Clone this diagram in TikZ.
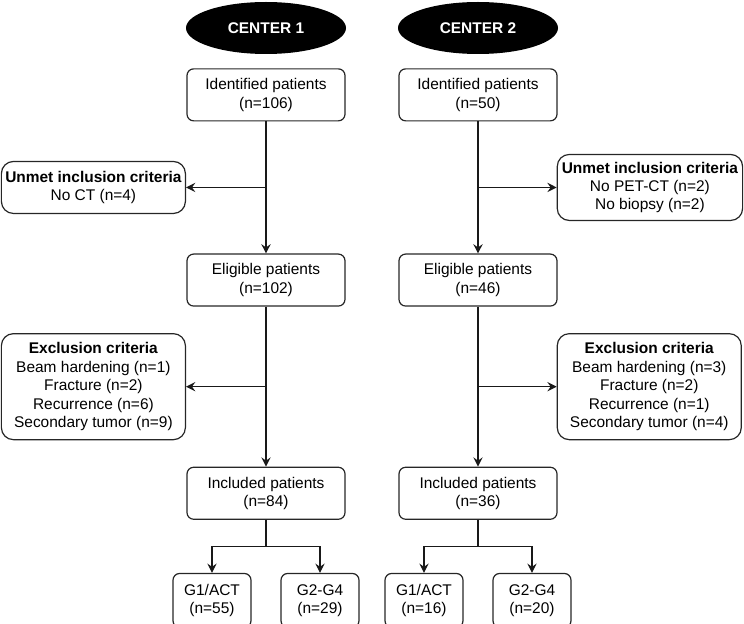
\documentclass[tikz,border=0pt]{standalone}
\usepackage{fontspec}
\setmainfont{Liberation Sans}
\usetikzlibrary{shapes,arrows,arrows.meta,calc,positioning}

\begin{document}
\begin{tikzpicture}[
  font=\fontsize{11.6}{13.8}\selectfont,
  sitetag/.style={ellipse, fill=black, text=white, minimum width=120pt, minimum height=39pt, inner sep=0pt, font=\fontsize{11.6}{13.8}\selectfont\bfseries},
  stagebox/.style={rectangle, rounded corners=5pt, draw=black!85, line width=0.9pt, minimum width=118.5pt, minimum height=39pt, align=center, inner sep=1pt},
  sidebox/.style={stagebox, rounded corners=9pt, minimum width=138pt},
  groupbox/.style={stagebox, minimum width=58.5pt, minimum height=40.5pt},
  arr/.style={draw=black!90, line width=0.9pt, -{Stealth[length=7pt,width=7pt,inset=2.5pt]}}
]
  \useasboundingbox (0,0) rectangle (558pt,-468pt);

  \node (cA) [sitetag] at (199.5pt,-21pt) {CENTER 1};
  \node (idA) [below=10.5pt of cA, stagebox] {Identified patients\\(n=106)};
  \node (elA) [below=99pt of idA, stagebox] {Eligible patients\\(n=102)};
  \node (inA) [below=120pt of elA, stagebox] {Included patients\\(n=84)};
  \node (g1A) [below=39.75pt of inA, xshift=-40.5pt, groupbox] {G1/ACT\\(n=55)};
  \node (g2A) [below=39.75pt of inA, xshift=40.5pt, groupbox] {G2-G4\\(n=29)};

  \coordinate (mA1) at ($(idA.south)!0.5!(elA.north)$);
  \coordinate (mA2) at ($(elA.south)!0.5!(inA.north)$);
  \coordinate (sA) at ($(inA.south)!0.5!(inA.south |- g1A.north)$);
  \node (unA) [left=60pt of mA1, sidebox] {\textbf{Unmet inclusion criteria}\\No CT (n=4)};
  \node (exA) [left=60pt of mA2, sidebox, minimum height=79.5pt] {\textbf{Exclusion criteria}\\Beam hardening (n=1)\\Fracture (n=2)\\Recurrence (n=6)\\Secondary tumor (n=9)};

  \node (cB) [sitetag] at (358.5pt,-21pt) {CENTER 2};
  \node (idB) [below=10.5pt of cB, stagebox] {Identified patients\\(n=50)};
  \node (elB) [below=99pt of idB, stagebox] {Eligible patients\\(n=46)};
  \node (inB) [below=120pt of elB, stagebox] {Included patients\\(n=36)};
  \node (g1B) [below=39.75pt of inB, xshift=-40.5pt, groupbox] {G1/ACT\\(n=16)};
  \node (g2B) [below=39.75pt of inB, xshift=40.5pt, groupbox] {G2-G4\\(n=20)};

  \coordinate (mB1) at ($(idB.south)!0.5!(elB.north)$);
  \coordinate (mB2) at ($(elB.south)!0.5!(inB.north)$);
  \coordinate (sB) at ($(inB.south)!0.5!(inB.south |- g1B.north)$);
  \node (unB) [right=59pt of mB1, sidebox, minimum width=139pt, minimum height=49.5pt] {\textbf{Unmet inclusion criteria}\\No PET-CT (n=2)\\No biopsy (n=2)};
  \node (exB) [right=59pt of mB2, sidebox, minimum height=79.5pt] {\textbf{Exclusion criteria}\\Beam hardening (n=3)\\Fracture (n=2)\\Recurrence (n=1)\\Secondary tumor (n=4)};

  \draw [arr] (idA) -- (elA);
  \draw [arr] (mA1) -- (unA);
  \draw [arr] (elA) -- (inA);
  \draw [arr] (mA2) -- (exA);
  \draw [arr] (inA.south) -- (sA) -| (g1A);
  \draw [arr] (sA) -| (g2A);

  \draw [arr] (idB) -- (elB);
  \draw [arr] (mB1) -- (unB);
  \draw [arr] (elB) -- (inB);
  \draw [arr] (mB2) -- (exB);
  \draw [arr] (inB.south) -- (sB) -| (g1B);
  \draw [arr] (sB) -| (g2B);
\end{tikzpicture}
\end{document}
